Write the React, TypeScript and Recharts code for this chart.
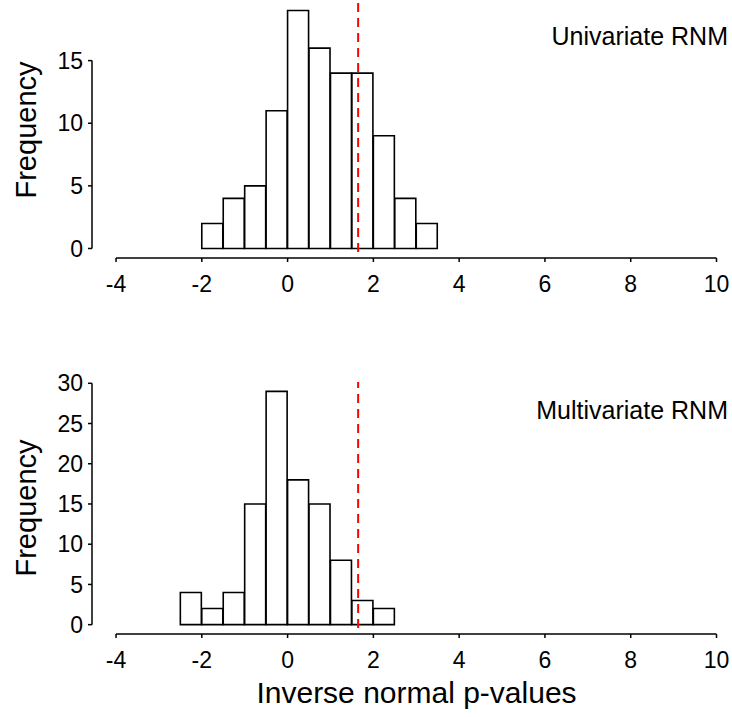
import { ComposedChart, Bar, XAxis, YAxis, ReferenceLine } from 'recharts'

// histogram bins are 0.5 wide, x axis runs -4..10
const BIN_STARTS = [-4, -3.5, -3, -2.5, -2, -1.5, -1, -0.5, 0, 0.5, 1, 1.5, 2, 2.5, 3, 3.5, 4, 4.5, 5, 5.5, 6, 6.5, 7, 7.5, 8, 8.5, 9, 9.5]
const X_TICKS = [-4, -2, 0, 2, 4, 6, 8, 10]

const UNI_FIRST_BIN = -2
const UNI_COUNTS = [2, 4, 5, 11, 19, 16, 14, 14, 9, 4, 2]
const UNI_Y_TICKS = [0, 5, 10, 15]

const MULTI_FIRST_BIN = -2.5
const MULTI_COUNTS = [4, 2, 4, 15, 29, 18, 15, 8, 3, 2]
const MULTI_Y_TICKS = [0, 5, 10, 15, 20, 25, 30]

const CUTOFF = 1.645

const FONT = '"Liberation Sans", Arial, Helvetica, sans-serif'
const X_GAP = 0.56 // R's 4% axis extension on the left

function buildRows(first: number, counts: number[]) {
  return BIN_STARTS.map((start) => {
    const i = Math.round((start - first) / 0.5)
    return { bin: String(start), start, count: i >= 0 && i < counts.length ? counts[i] : null }
  })
}

type PanelProps = {
  counts: number[]
  first: number
  yTicks: number[]
  yDomain: [number, number]
  height: number
  top: number
  marginTop: number
  marginBottom: number
}

function Panel({ counts, first, yTicks, yDomain, height, top, marginTop, marginBottom }: PanelProps) {
  const rows = buildRows(first, counts)
  const yMax = yTicks[yTicks.length - 1]
  return (
    <div style={{ position: 'absolute', left: 0, top }}>
      <ComposedChart
        width={732}
        height={height}
        data={rows}
        margin={{ top: marginTop, right: 15.5, bottom: marginBottom, left: 0 }}
        barCategoryGap={0}
        barGap={0}
      >
        <XAxis
          xAxisId="num"
          dataKey="start"
          type="number"
          domain={[-4 - X_GAP, 10]}
          allowDataOverflow
          ticks={X_TICKS}
          interval={0}
          axisLine={false}
          tickLine={{ stroke: '#000', strokeWidth: 1.5 }}
          tickSize={4}
          tickMargin={14}
          height={42}
          tick={{ fontSize: 23, fill: '#000', fontFamily: FONT }}
        />
        <XAxis xAxisId="bins" dataKey="bin" type="category" hide height={0} padding={{ left: 24, right: 0 }} />
        <YAxis
          type="number"
          domain={yDomain}
          allowDataOverflow
          ticks={yTicks}
          interval={0}
          width={92}
          axisLine={false}
          tickLine={{ stroke: '#000', strokeWidth: 1.5 }}
          tickSize={4}
          tickMargin={5}
          tick={{ fontSize: 23, fill: '#000', fontFamily: FONT }}
        />
        <Bar
          xAxisId="bins"
          dataKey="count"
          fill="#fff"
          stroke="#000"
          strokeWidth={1.6}
          isAnimationActive={false}
        />
        <ReferenceLine
          xAxisId="num"
          ifOverflow="visible"
          stroke="#000"
          strokeWidth={1.5}
          segment={[{ x: -4, y: yDomain[0] }, { x: 10, y: yDomain[0] }]}
        />
        <ReferenceLine
          xAxisId="num"
          ifOverflow="visible"
          stroke="#000"
          strokeWidth={1.5}
          segment={[{ x: -4 - X_GAP, y: 0 }, { x: -4 - X_GAP, y: yMax }]}
        />
        <ReferenceLine
          xAxisId="num"
          x={CUTOFF}
          stroke="#ff0000"
          strokeWidth={2}
          strokeDasharray="9 6"
          strokeDashoffset={-6}
        />
      </ComposedChart>
    </div>
  )
}

export default function App() {
  return (
    <div style={{ position: 'absolute', left: 0, top: 0, width: 732, height: 717, background: '#fff', fontFamily: FONT }}>
      <Panel
        counts={UNI_COUNTS}
        first={UNI_FIRST_BIN}
        yTicks={UNI_Y_TICKS}
        yDomain={[-0.76, 19.76]}
        height={300}
        top={0}
        marginTop={1}
        marginBottom={0}
      />
      <Panel
        counts={MULTI_COUNTS}
        first={MULTI_FIRST_BIN}
        yTicks={MULTI_Y_TICKS}
        yDomain={[-1.16, 30.16]}
        height={377}
        top={340}
        marginTop={42}
        marginBottom={41}
      />
      <svg width={732} height={717} style={{ position: 'absolute', left: 0, top: 0, pointerEvents: 'none' }}>
        <g fontFamily={FONT} fill="#000">
          <text x={36} y={130} fontSize={29} textAnchor="middle" transform="rotate(-90 36 130)">Frequency</text>
          <text x={36} y={508} fontSize={29} textAnchor="middle" transform="rotate(-90 36 508)">Frequency</text>
          <text x={728} y={45} fontSize={25} textAnchor="end">Univariate RNM</text>
          <text x={728} y={419} fontSize={25} textAnchor="end">Multivariate RNM</text>
          <text x={416.5} y={703} fontSize={30} textAnchor="middle">Inverse normal p-values</text>
        </g>
      </svg>
    </div>
  )
}
